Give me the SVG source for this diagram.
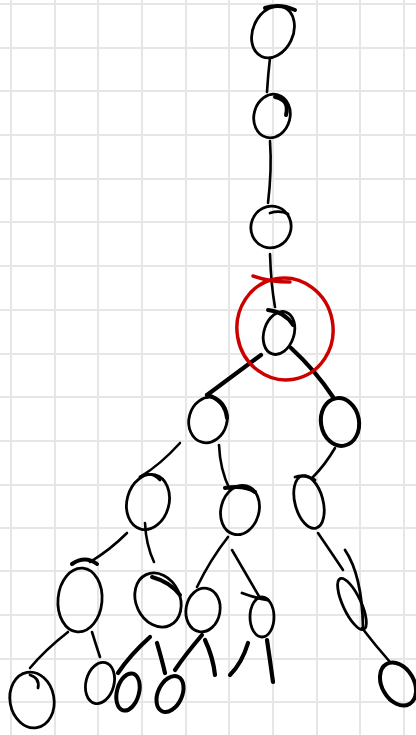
<svg xmlns="http://www.w3.org/2000/svg" width="416" height="735" viewBox="0 0 416 735">
<defs>
<style>
.grid line{stroke:#e6e6e6;stroke-width:2}
.n{fill:none;stroke:#000;stroke-width:2.8;stroke-linecap:round}
.nt{fill:none;stroke:#000;stroke-width:4;stroke-linecap:round}
.e path{fill:none;stroke:#000;stroke-width:2.6;stroke-linecap:round}
.e .t{stroke-width:4.2}
.red{fill:none;stroke:#cc0000;stroke-width:3.5;stroke-linecap:round}
</style>
</defs>
<rect width="416" height="735" fill="#fff"/>
<g class="grid">
<line x1="11" y1="0" x2="11" y2="735"/><line x1="55" y1="0" x2="55" y2="735"/><line x1="98" y1="0" x2="98" y2="735"/><line x1="142" y1="0" x2="142" y2="735"/><line x1="186" y1="0" x2="186" y2="735"/><line x1="229" y1="0" x2="229" y2="735"/><line x1="273" y1="0" x2="273" y2="735"/><line x1="317" y1="0" x2="317" y2="735"/><line x1="360" y1="0" x2="360" y2="735"/><line x1="404" y1="0" x2="404" y2="735"/>
<line x1="0" y1="4" x2="416" y2="4"/><line x1="0" y1="48" x2="416" y2="48"/><line x1="0" y1="91" x2="416" y2="91"/><line x1="0" y1="135" x2="416" y2="135"/><line x1="0" y1="179" x2="416" y2="179"/><line x1="0" y1="222" x2="416" y2="222"/><line x1="0" y1="266" x2="416" y2="266"/><line x1="0" y1="310" x2="416" y2="310"/><line x1="0" y1="354" x2="416" y2="354"/><line x1="0" y1="397" x2="416" y2="397"/><line x1="0" y1="441" x2="416" y2="441"/><line x1="0" y1="485" x2="416" y2="485"/><line x1="0" y1="528" x2="416" y2="528"/><line x1="0" y1="571" x2="416" y2="571"/><line x1="0" y1="615" x2="416" y2="615"/><line x1="0" y1="659" x2="416" y2="659"/><line x1="0" y1="702" x2="416" y2="702"/>
</g>
<g id="connectors" class="e">
<path d="M270,58 Q268,75 267,92"/>
<path d="M270,141 Q272,170 268,203"/>
<path d="M270,254 Q271,285 275,307"/>
<path class="t" d="M261,355 L207,395"/>
<path class="t" d="M291,348 Q315,370 333,397"/>
<path d="M180,443 Q160,465 140,477"/>
<path d="M219,445 Q220,470 230,490"/>
<path d="M335,448 Q325,465 313,477"/>
<path d="M127,533 Q110,550 90,562"/>
<path d="M145,523 Q146,545 154,562"/>
<path d="M228,537 Q210,560 197,587"/>
<path d="M232,550 L260,598"/>
<path d="M318,533 Q333,555 343,570"/>
<path d="M68,632 Q45,650 30,668"/>
<path d="M92,632 Q96,645 100,657"/>
<path class="t" d="M150,637 Q130,655 118,673"/>
<path class="t" d="M157,643 Q162,660 165,673"/>
<path class="t" d="M202,635 Q185,655 175,670"/>
<path class="t" d="M205,640 Q213,657 215,675"/>
<path class="t" d="M248,643 Q242,663 230,675"/>
<path class="t" d="M267,640 Q270,660 273,682"/>
<path d="M362,628 Q375,645 390,662"/>
</g>
<g id="n1"><ellipse class="n" cx="273" cy="32" rx="20" ry="27" transform="rotate(25 273 32)"/><path class="nt" d="M265,8 Q280,3 295,10"/></g>
<g id="n2"><ellipse class="n" cx="272" cy="116" rx="18" ry="22" transform="rotate(15 272 116)"/><path class="nt" d="M275,97 Q290,100 286,115"/></g>
<g id="n3"><ellipse class="n" cx="271" cy="227" rx="20" ry="21" transform="rotate(20 271 227)"/><path class="n" d="M270,213 Q280,210 288,214"/></g>
<g id="n4"><ellipse class="n" cx="279" cy="333" rx="15" ry="22" transform="rotate(18 279 333)"/><path class="nt" d="M268,310 Q285,312 293,325"/></g>
<g id="focus"><ellipse class="red" cx="285" cy="329" rx="48" ry="51" transform="rotate(-10 285 329)"/><path class="red" d="M253,276 Q270,282 290,282"/></g>
<g id="n5"><ellipse class="n" cx="208" cy="420" rx="19" ry="23" transform="rotate(15 208 420)"/><path class="nt" d="M207,395 Q225,400 227,418"/></g>
<g id="n6"><ellipse class="nt" cx="340" cy="422" rx="19" ry="24" transform="rotate(-10 340 422)"/></g>
<g id="n7"><ellipse class="n" cx="148" cy="502" rx="21" ry="28" transform="rotate(15 148 502)"/><path class="n" d="M140,477 Q150,470 160,480"/></g>
<g id="n8"><ellipse class="n" cx="240" cy="510" rx="19" ry="25" transform="rotate(15 240 510)"/><path class="nt" d="M225,488 Q245,485 255,492"/></g>
<g id="n9"><ellipse class="n" cx="309" cy="502" rx="14" ry="27" transform="rotate(-15 309 502)"/><path class="n" d="M295,477 Q305,474 315,480"/></g>
<g id="n10"><ellipse class="n" cx="80" cy="600" rx="22" ry="32" transform="rotate(5 80 600)"/><path class="nt" d="M72,564 Q85,555 97,564"/></g>
<g id="n11"><ellipse class="n" cx="158" cy="600" rx="22" ry="28" transform="rotate(-25 158 600)"/><path class="nt" d="M152,577 Q170,582 180,595"/></g>
<g id="n12"><ellipse class="n" cx="203" cy="610" rx="17" ry="22" transform="rotate(10 203 610)"/></g>
<g id="n13"><ellipse class="n" cx="262" cy="617" rx="12" ry="20"/><path class="n" d="M242,593 Q255,598 268,600"/></g>
<g id="n14"><ellipse class="n" cx="352" cy="604" rx="9" ry="28" transform="rotate(-25 352 604)"/><path class="n" d="M345,550 Q362,575 363,627"/></g>
<g id="n15"><ellipse class="n" cx="32" cy="700" rx="22" ry="28" transform="rotate(-10 32 700)"/><path class="n" d="M30,675 Q40,678 38,688"/></g>
<g id="n16"><ellipse class="n" cx="100" cy="683" rx="14" ry="21" transform="rotate(15 100 683)"/></g>
<g id="n17"><ellipse class="nt" cx="128" cy="692" rx="11" ry="19" transform="rotate(15 128 692)"/></g>
<g id="n18"><ellipse class="nt" cx="170" cy="694" rx="12" ry="19" transform="rotate(25 170 694)"/></g>
<g id="n19"><ellipse class="nt" cx="398" cy="684" rx="16" ry="23" transform="rotate(-30 398 684)"/></g>
</svg>
